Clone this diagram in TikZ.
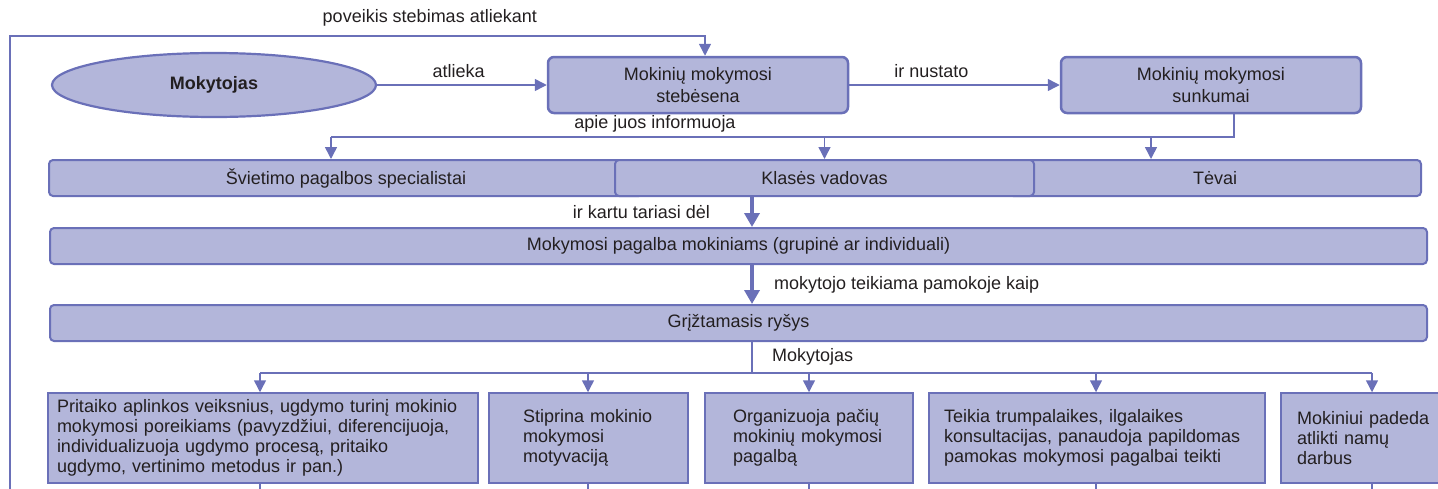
\documentclass[tikz,border=0pt]{standalone}
\usepackage{fontspec}
\setmainfont{Liberation Sans}
\usepackage{tikz}
\usetikzlibrary{shapes.geometric, arrows.meta, calc}
\definecolor{boxfill}{HTML}{B3B6DA}
\definecolor{boxline}{HTML}{6A70B8}
\definecolor{inkgray}{HTML}{231F20}
\tikzset{
  actor/.style={ellipse, draw=boxline, line width=2.2pt, fill=boxfill, text=inkgray,
    font=\bfseries\fontsize{18}{20}\selectfont, minimum width=324pt, minimum height=64pt, inner sep=0pt},
  topbox/.style={rectangle, rounded corners=6pt, draw=boxline, line width=2.5pt, fill=boxfill, text=inkgray,
    font=\fontsize{18}{22}\selectfont, minimum width=300pt, minimum height=56pt, align=center, inner sep=0pt},
  rowbox/.style={rectangle, rounded corners=4pt, draw=boxline, line width=2pt, fill=boxfill, text=inkgray,
    font=\fontsize{18}{20}\selectfont, minimum height=36pt, inner sep=0pt},
  actbox/.style={rectangle, draw=boxline, line width=1.5pt, fill=boxfill, text=inkgray,
    font=\fontsize{18}{20}\selectfont, minimum height=90pt, align=left, inner ysep=0pt},
  ar/.style={-{Triangle[width=12pt,length=12pt]}, draw=boxline, line width=1.5pt},
  thickar/.style={-{Triangle[width=15pt,length=14pt]}, draw=boxline, line width=4pt},
  ln/.style={draw=boxline, line width=1.5pt},
  lb/.style={text=inkgray, font=\fontsize{18}{20}\selectfont, inner sep=0pt},
}

\begin{document}
\begin{tikzpicture}[x=1pt, y=-1pt]
\clip (0,0) rectangle (1438,488);

%% ===== NODES =====
\node[actor]  (teacher) at (214,85)  {Mokytojas};
\node[topbox] (watch)   at (698,85)  {Mokinių mokymosi\\stebėsena};
\node[topbox] (trouble) at (1211,85) {Mokinių mokymosi\\sunkumai};

% -- who is informed --
\node[rowbox, minimum width=594pt]  (spec)    at (346,178)   {Švietimo pagalbos specialistai};
\node[rowbox, minimum width=412pt]  (parents) at (1215,178)  {Tėvai};
\node[rowbox, minimum width=419pt]  (tutor)   at (824.5,178) {Klasės vadovas};

\node[rowbox, minimum width=1377pt] (help)     at (738.5,246) {Mokymosi pagalba mokiniams (grupinė ar individuali)};
\node[rowbox, minimum width=1377pt] (feedback) at (738.5,323) {Grįžtamasis ryšys};

% -- what the teacher does --
\node[actbox, text width=412pt, inner xsep=9pt]  (adapt)   at (263,438)    {Pritaiko aplinkos veiksnius, ugdymo turinį mokinio\\mokymosi poreikiams (pavyzdžiui, diferencijuoja,\\individualizuoja ugdymo procesą, pritaiko\\ugdymo, vertinimo metodus ir pan.)};
\node[actbox, text width=131pt, inner xsep=34pt] (motiv)   at (588.5,438)  {Stiprina mokinio\\mokymosi\\motyvaciją};
\node[actbox, text width=152pt, inner xsep=28pt] (self)    at (809,438)    {Organizuoja pačių\\mokinių mokymosi\\pagalbą};
\node[actbox, text width=306pt, inner xsep=15pt] (consult) at (1097,438)   {Teikia trumpalaikes, ilgalaikes\\konsultacijas, panaudoja papildomas\\pamokas mokymosi pagalbai teikti};
\node[actbox, text width=139pt, inner xsep=16pt] (home)    at (1366.5,438) {Mokiniui padeda\\atlikti namų\\darbus};

%% ===== CONNECTORS =====
\coordinate (loopbot) at (10,500);
\coordinate (looptop) at (10,36);
\coordinate (infoL)   at (331,137);
\coordinate (spine)   at (752,0);
\coordinate (fanL)    at (260,373);
\coordinate (fanR)    at (1372,373);

\draw[ar] (loopbot) -- (looptop) -| node[lb, pos=0.302, above=9pt]{poveikis stebimas atliekant} ($(watch.north)+(7,0)$);
\draw[ar] (teacher) -- node[lb, pos=0.48, above=7pt]{atlieka} (watch);
\draw[ar] (watch) -- node[lb, pos=0.39, above=7pt]{ir nustato} (trouble);

\draw[ln] ($(trouble.south)+(23,0)$) |- (infoL);
\node[lb] at (655,124) {apie juos informuoja};
\draw[ar] (infoL) -- (infoL |- spec.north);
\draw[ar] (tutor.north |- infoL) -- (tutor.north);
\draw[ar] (1151,137) -- (1151,137 |- parents.north);

\draw[thickar] (spine |- tutor.south) -- node[lb, left=40pt]{ir kartu tariasi dėl} (spine |- help.north);
\draw[thickar] (spine |- help.south) -- node[lb, right=20pt]{mokytojo teikiama pamokoje kaip} (spine |- feedback.north);

\draw[ln] (spine |- feedback.south) -- (spine |- fanL);
\node[lb, anchor=west] at (772,357) {Mokytojas};
\draw[ln] (fanL) -- (fanR);
\foreach \x/\n in {260/adapt, 588/motiv, 809/self, 1096/consult, 1372/home}{
  \draw[ar] (\x,373) -- (\x,373 |- \n.north);
  \draw[ln] (\x,0 |- \n.south) -- (\x,500);
}
\end{tikzpicture}
\end{document}
